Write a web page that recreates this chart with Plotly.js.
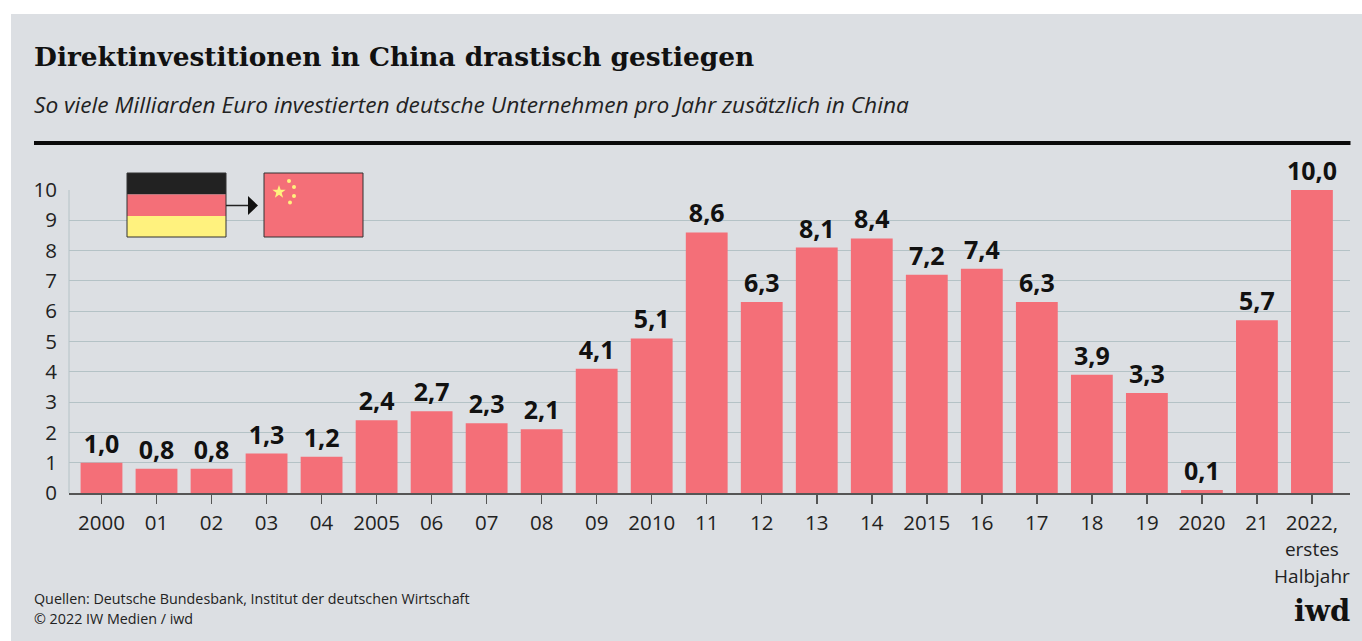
<!DOCTYPE html>
<html><head><meta charset="utf-8"><script src="https://cdn.plot.ly/plotly-3.0.1.min.js"></script>
<style>html,body{margin:0;padding:0;background:#fff}</style></head><body><div id="c" style="width:1362px;height:641px"></div>
<script>
const categories=["2000","01","02","03","04","2005","06","07","08","09","2010","11","12","13","14","2015","16","17","18","19","2020","21","2022,<br><span style=\"font-size:19px\">erstes</span><br><span style=\"font-size:19px\">Halbjahr</span>"];
const values=[1.0,0.8,0.8,1.3,1.2,2.4,2.7,2.3,2.1,4.1,5.1,8.6,6.3,8.1,8.4,7.2,7.4,6.3,3.9,3.3,0.1,5.7,10.0];
const labels=["1,0","0,8","0,8","1,3","1,2","2,4","2,7","2,3","2,1","4,1","5,1","8,6","6,3","8,1","8,4","7,2","7,4","6,3","3,9","3,3","0,1","5,7","10,0"];
const yTicks=[0,1,2,3,4,5,6,7,8,9,10];
const W=1362,H=641,L=69,R=1350,T=190,B=493;
const PX=x=>(x-L)/(R-L), PY=y=>(B-y)/(B-T);
const slotW=55.02, firstC=101.5;
const RED='#f46f78',BG='#dcdfe3',GRID='#b4c2c6',TXT='#222',YEL='#fff27e';
const FONT='"Open Sans",sans-serif';
const rect=(x0,y0,x1,y1,fill,line,layer)=>({type:'rect',xref:'paper',yref:'paper',x0:PX(x0),x1:PX(x1),y0:PY(y0),y1:PY(y1),fillcolor:fill,line:line?{color:line,width:1}:{width:0},layer:layer||'above'});
const star=(cx,cy,r)=>{let p='';for(let i=0;i<10;i++){const a=-Math.PI/2+i*Math.PI/5,q=i%2?r*0.4:r;p+=(i?'L':'M')+PX(cx+q*Math.cos(a))+','+PY(cy+q*Math.sin(a));}return p+'Z';};
const dot=(cx,cy,r)=>({type:'circle',xref:'paper',yref:'paper',x0:PX(cx-r),x1:PX(cx+r),y0:PY(cy-r),y1:PY(cy+r),fillcolor:YEL,line:{width:0},layer:'above'});
const shapes=[
 rect(11,14,1362,641,BG,null,'below'),
 rect(34,141,1350.5,145,'#0a0a0a',null,'below'),
 {type:'line',xref:'paper',yref:'paper',x0:PX(L),x1:PX(L),y0:PY(T),y1:PY(B),line:{color:GRID,width:1},layer:'below'},
 rect(127,173,226,194.5,'#222',null),
 rect(127,194.5,226,216,RED,null),
 rect(127,216,226,237,YEL,null),
 rect(127,173,226,237,'rgba(0,0,0,0)','#333'),
 {type:'line',xref:'paper',yref:'paper',x0:PX(226),x1:PX(249),y0:PY(205.5),y1:PY(205.5),line:{color:'#222',width:1.5},layer:'above'},
 {type:'path',xref:'paper',yref:'paper',path:`M${PX(248)},${PY(196)}L${PX(258)},${PY(205.5)}L${PX(248)},${PY(215)}Z`,fillcolor:'#111',line:{width:0},layer:'above'},
 rect(264,173,363,237,RED,'#333'),
 {type:'path',xref:'paper',yref:'paper',path:star(279,192,7),fillcolor:YEL,line:{width:0},layer:'above'},
 dot(289,181,2),dot(294,187,2),dot(294,196,2),dot(290,202.5,2)
];
const A=(x,y,t,sz,col,opt)=>Object.assign({xref:'paper',yref:'paper',x:PX(x),y:PY(y),text:t,showarrow:false,xanchor:'left',yanchor:'middle',xshift:-2,font:{size:sz,color:col,family:FONT}},opt||{});
const annotations=[
 A(34,56,'<b>Direktinvestitionen in China drastisch gestiegen</b>',26.4,'#111',{font:{size:26.4,color:'#111',family:'"DejaVu Serif",serif'}}),
 A(34,104.5,'<i>So viele Milliarden Euro investierten deutsche Unternehmen pro Jahr zusätzlich in China</i>',22.7,TXT),
 A(34,598,'Quellen: Deutsche Bundesbank, Institut der deutschen Wirtschaft',14.3,TXT),
 A(34,618,'© 2022 IW Medien / iwd',14.3,TXT),
 A(1350,611,'<b>iwd</b>',29,'#111',{xanchor:'right',xshift:2,font:{size:29,color:'#111',family:'"DejaVu Serif",serif'}})
];
Plotly.newPlot('c',[{type:'bar',x:categories.map((c,i)=>i),y:values,width:0.76,marker:{color:RED,line:{width:0}},text:labels,textposition:'outside',textangle:0,cliponaxis:false,constraintext:'none',textfont:{size:25,color:'#111',family:FONT,weight:700},hoverinfo:'skip'}],{
 width:W,height:H,margin:{l:L,r:W-R,t:T,b:H-B,pad:0},paper_bgcolor:'#fff',plot_bgcolor:'rgba(0,0,0,0)',showlegend:false,
 xaxis:{range:[(L-firstC)/slotW,(R-firstC)/slotW],tickmode:'array',tickvals:categories.map((c,i)=>i),ticktext:categories,ticks:'outside',ticklen:9,tickwidth:1.5,tickcolor:'#555',showgrid:false,zeroline:false,showline:true,linecolor:'#555',linewidth:2,tickangle:0,ticklabelstandoff:1,tickfont:{size:20.5,color:TXT,family:FONT}},
 yaxis:{range:[0,10],tickmode:'array',tickvals:yTicks,ticktext:yTicks.map(String),ticks:'',ticklabelstandoff:11,showgrid:true,gridcolor:GRID,gridwidth:1,zeroline:false,showline:false,tickfont:{size:20.5,color:TXT,family:FONT}},
 shapes,annotations
},{displayModeBar:false,staticPlot:true});
</script></body></html>
